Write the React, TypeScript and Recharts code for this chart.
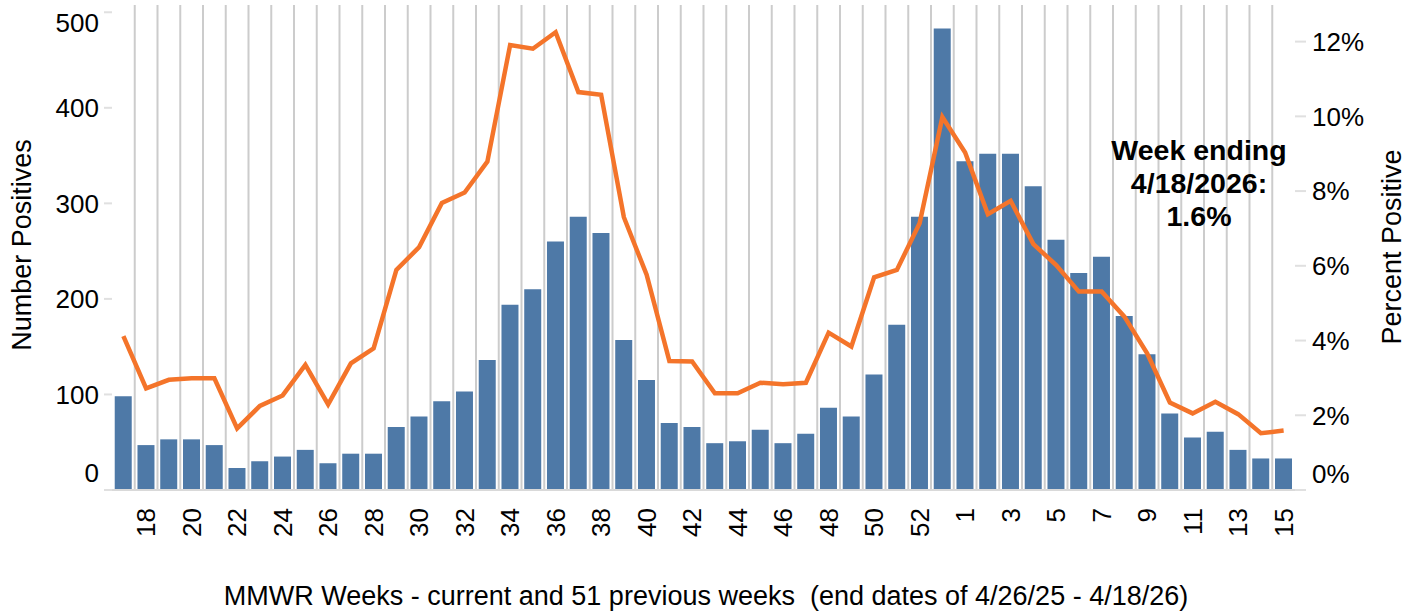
import { Bar, CartesianGrid, ComposedChart, Line, XAxis, YAxis } from "recharts";

const weeks = [
  17, 18, 19, 20, 21, 22, 23, 24, 25, 26, 27, 28, 29, 30, 31, 32, 33, 34, 35,
  36, 37, 38, 39, 40, 41, 42, 43, 44, 45, 46, 47, 48, 49, 50, 51, 52, 53, 1, 2,
  3, 4, 5, 6, 7, 8, 9, 10, 11, 12, 13, 14, 15,
];
const positives = [
  98, 47, 53, 53, 47, 23, 30, 35, 42, 28, 38, 38, 66, 77, 93, 103, 136, 194,
  210, 260, 286, 269, 157, 115, 70, 66, 49, 51, 63, 49, 59, 86, 77, 121, 173,
  286, 483, 344, 352, 352, 318, 262, 227, 244, 182, 142, 80, 55, 61, 42, 33, 33,
];
const percentPositive = [
  4.12, 2.72, 2.95, 2.99, 2.99, 1.65, 2.25, 2.53, 3.35, 2.29, 3.39, 3.79, 5.89,
  6.5, 7.68, 7.96, 8.79, 11.91, 11.81, 12.25, 10.65, 10.58, 7.3, 5.76, 3.45,
  3.44, 2.59, 2.59, 2.87, 2.83, 2.87, 4.21, 3.84, 5.69, 5.89, 7.14, 9.98, 9.03,
  7.38, 7.74, 6.58, 6.02, 5.31, 5.31, 4.64, 3.66, 2.34, 2.05, 2.36, 2.03, 1.52,
  1.59,
];
const countTicks = [0, 100, 200, 300, 400, 500];
const percentTicks = [0, 2, 4, 6, 8, 10, 12];

const data = weeks.map((week, i) => ({
  week: String(week),
  positives: positives[i],
  pct: percentPositive[i],
}));

const FONT = "Arial, 'Liberation Sans', sans-serif";

// every other week gets a label, rotated like the Excel original
function WeekTick({ x, y, payload, index }: any) {
  if (index % 2 === 0) return null;
  return (
    <g transform={`translate(${x},${y})`}>
      <text
        transform="rotate(-90)"
        x={-10}
        y={9}
        textAnchor="end"
        fontSize={26}
        fill="#000"
      >
        {payload.value}
      </text>
    </g>
  );
}

function CountTick({ x, y, payload }: any) {
  const v = payload.value;
  const nudge = v === 0 ? -17 : v === 500 ? 10 : 0; // end labels kept inside
  return (
    <text x={x} y={y + nudge} dy="0.36em" textAnchor="end" fontSize={26} fill="#000">
      {v}
    </text>
  );
}

function PercentTick({ x, y, payload }: any) {
  const v = payload.value;
  const nudge = v === 0 ? -16 : 0;
  return (
    <text x={x} y={y + nudge} dy="0.36em" textAnchor="start" fontSize={26} fill="#000">
      {`${v}%`}
    </text>
  );
}

const bandLines = ({ offset }: any) => {
  const n = weeks.length;
  const step = offset.width / n;
  return weeks.slice(1).map((_, i) => offset.left + step * (i + 1));
};

export default function App() {
  return (
    <div
      style={{
        position: "absolute",
        left: 0,
        top: 0,
        width: 1421,
        height: 613,
        background: "#fff",
        fontFamily: FONT,
      }}
    >
      <ComposedChart
        width={1421}
        height={613}
        data={data}
        margin={{ top: 5, right: 0, bottom: 0, left: 0 }}
        barCategoryGap="12%"
      >
        <CartesianGrid
          horizontal={false}
          stroke="#cccccc"
          strokeWidth={2}
          verticalCoordinatesGenerator={bandLines}
        />
        <XAxis
          dataKey="week"
          interval={0}
          height={123}
          tickLine={false}
          axisLine={{ stroke: "#d9d9d9", strokeWidth: 2 }}
          tick={<WeekTick />}
        />
        <YAxis
          yAxisId="left"
          width={112}
          domain={[0, 507.6]}
          ticks={countTicks}
          axisLine={false}
          tickSize={8}
          tickMargin={5}
          tickLine={{ stroke: "#e0e0e0", strokeWidth: 2 }}
          tick={<CountTick />}
        />
        <YAxis
          yAxisId="right"
          orientation="right"
          width={126}
          domain={[0, 12.98]}
          ticks={percentTicks}
          axisLine={false}
          tickSize={11}
          tickMargin={6}
          tickLine={{ stroke: "#e0e0e0", strokeWidth: 2 }}
          tick={<PercentTick />}
        />
        <Bar
          yAxisId="left"
          dataKey="positives"
          fill="#4e79a7"
          isAnimationActive={false}
        />
        <Line
          yAxisId="right"
          dataKey="pct"
          type="linear"
          stroke="#f4742a"
          strokeWidth={4.5}
          dot={false}
          isAnimationActive={false}
        />
      </ComposedChart>
      <svg
        width={1421}
        height={613}
        style={{ position: "absolute", left: 0, top: 0, pointerEvents: "none" }}
      >
        <text
          transform="translate(31,245) rotate(-90)"
          textAnchor="middle"
          fontSize={27}
          fill="#000"
        >
          Number Positives
        </text>
        <text
          transform="translate(1401,247) rotate(-90)"
          textAnchor="middle"
          fontSize={27}
          fill="#000"
        >
          Percent Positive
        </text>
        <text
          x={706}
          y={605}
          textAnchor="middle"
          fontSize={27}
          fill="#000"
          style={{ whiteSpace: "pre" }}
        >
          MMWR Weeks - current and 51 previous weeks  (end dates of 4/26/25 - 4/18/26)
        </text>
        <text textAnchor="middle" fontSize={28.5} fontWeight="bold" fill="#000">
          <tspan x={1199} y={160}>Week ending</tspan>
          <tspan x={1199} y={193}>4/18/2026:</tspan>
          <tspan x={1199} y={226}>1.6%</tspan>
        </text>
      </svg>
    </div>
  );
}
